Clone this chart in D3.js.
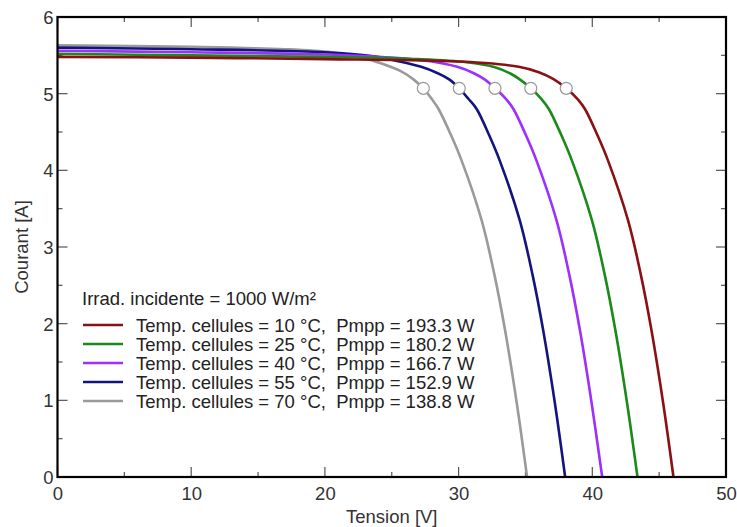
<!DOCTYPE html>
<html><head><meta charset="utf-8">
<script src="https://cdn.jsdelivr.net/npm/d3@7"></script>
<style>
body{margin:0;background:#fff;}
svg{font-family:"Liberation Sans",Arial,sans-serif;}
</style></head>
<body><svg id="c" width="737" height="527"></svg>
<script>
const temps = [10, 25, 40, 55, 70];
const pmpp = ["193.3", "180.2", "166.7", "152.9", "138.8"];
const colors = ["#8b1014", "#1a8a1a", "#9b30ff", "#14147f", "#9a9a9a"];
const xTicks = [0, 10, 20, 30, 40, 50];
const yTicks = [0, 1, 2, 3, 4, 5, 6];
const vmpp = [38.05, 35.4, 32.72, 30.05, 27.36];
const impp = [5.07, 5.07, 5.07, 5.07, 5.07];
// I-V curves: [voltage V, current A]
const curve10 = [[0,5.48],[10,5.47],[20,5.45],[28,5.43],[32,5.4],[34.5,5.35],[36,5.28],[37.1,5.19],[38.05,5.07],[38.95,4.92],[39.45,4.8],[40.38,4.46],[41.17,4.13],[42.67,3.35],[43.64,2.63],[44.42,1.92],[45.3,0.965],[46.07,0]];
const curve25 = [[0,5.52],[10,5.5],[20,5.48],[27,5.45],[30.6,5.41],[32.6,5.35],[33.9,5.26],[34.7,5.17],[35.4,5.07],[36.2,4.93],[36.75,4.8],[37.68,4.46],[38.47,4.13],[39.97,3.35],[40.94,2.63],[41.72,1.92],[42.6,0.965],[43.38,0]];
const curve40 = [[0,5.56],[10,5.54],[20,5.51],[25,5.47],[28,5.42],[29.9,5.35],[31.1,5.27],[32,5.18],[32.72,5.07],[33.55,4.93],[34.1,4.8],[35.03,4.46],[35.82,4.13],[37.32,3.35],[38.29,2.63],[39.07,1.92],[39.95,0.965],[40.74,0]];
const curve55 = [[0,5.6],[10,5.58],[20,5.54],[23.5,5.49],[25.6,5.42],[27.2,5.35],[28.4,5.27],[29.35,5.18],[30.05,5.07],[30.75,4.93],[31.35,4.8],[32.28,4.46],[33.07,4.13],[34.57,3.35],[35.54,2.63],[36.32,1.92],[37.2,0.965],[37.97,0]];
const curve70 = [[0,5.63],[10,5.61],[17,5.58],[20.5,5.54],[22.8,5.47],[24.3,5.39],[25.6,5.3],[26.6,5.19],[27.36,5.07],[28.0,4.93],[28.5,4.8],[29.43,4.46],[30.22,4.13],[31.72,3.35],[32.69,2.63],[33.47,1.92],[34.35,0.965],[35.12,0]];
const curves = [curve10, curve25, curve40, curve55, curve70];

const L = 57.5, R = 726, T = 17, B = 477;
const x = d3.scaleLinear().domain([0, 50]).range([L, R]);
const y = d3.scaleLinear().domain([0, 6]).range([B, T]);
const svg = d3.select("#c");
const txt = "#333";
const fs = "18.5px";

// ticks (inward, both sides)
const xMinor = d3.range(0, 50.1, 5), yMinor = d3.range(0, 6.01, 0.5);
const tk = svg.append("g").attr("stroke", "#555").attr("stroke-width", 1.2);
xMinor.forEach(v => {
  const len = (v % 10 === 0) ? 10 : 5;
  tk.append("line").attr("x1", x(v)).attr("x2", x(v)).attr("y1", B).attr("y2", B - len);
  tk.append("line").attr("x1", x(v)).attr("x2", x(v)).attr("y1", T).attr("y2", T + len);
});
yMinor.forEach(v => {
  const len = (Math.abs(v - Math.round(v)) < 1e-6) ? 10 : 5;
  tk.append("line").attr("y1", y(v)).attr("y2", y(v)).attr("x1", L).attr("x2", L + len);
  tk.append("line").attr("y1", y(v)).attr("y2", y(v)).attr("x1", R).attr("x2", R - len);
});

// curves
const line = d3.line().x(d => x(d[0])).y(d => y(d[1])).curve(d3.curveCatmullRom.alpha(0.5));
const order = [4, 3, 2, 1, 0];
order.forEach(i => {
  svg.append("path").attr("d", line(curves[i])).attr("fill", "none")
    .attr("stroke", colors[i]).attr("stroke-width", 2.6).attr("stroke-linejoin", "round");
});
// MPP circles
vmpp.forEach((v, i) => {
  svg.append("circle").attr("cx", x(v)).attr("cy", y(impp[i])).attr("r", 6)
    .attr("fill", "#fff").attr("stroke", "#999").attr("stroke-width", 1.2);
});

// frame
svg.append("rect").attr("x", L).attr("y", T).attr("width", R - L).attr("height", B - T)
  .attr("fill", "none").attr("stroke", "#000").attr("stroke-width", 2.2);

// axes labels
const xAxis = d3.axisBottom(x).tickValues(xTicks).tickFormat(d3.format("d")).tickSize(0).tickPadding(0);
const gx = svg.append("g").attr("transform", `translate(0,${B})`).call(xAxis);
gx.select(".domain").remove();
gx.selectAll("text").attr("fill", txt).style("font-size", fs).attr("dy", 0).attr("y", 23);
const yAxis = d3.axisLeft(y).tickValues(yTicks).tickFormat(d3.format("d")).tickSize(0).tickPadding(0);
const gy = svg.append("g").attr("transform", `translate(${L - 4},0)`).call(yAxis);
gy.select(".domain").remove();
gy.selectAll("text").attr("fill", txt).style("font-size", fs).attr("dy", "0.35em");

svg.append("text").attr("x", (L + R) / 2).attr("y", 523).attr("text-anchor", "middle")
  .attr("fill", txt).style("font-size", fs).text("Tension [V]");
svg.append("text").attr("transform", `translate(28,${(T + B) / 2}) rotate(-90)`).attr("text-anchor", "middle")
  .attr("fill", txt).style("font-size", fs).text("Courant [A]");

// legend
const lg = svg.append("g");
lg.append("text").attr("x", 82).attr("y", 305).attr("fill", "#222").style("font-size", fs)
  .text("Irrad. incidente = 1000 W/m²");
temps.forEach((t, i) => {
  const yy = 332 + i * 19;
  lg.append("line").attr("x1", 83).attr("x2", 123).attr("y1", yy - 7).attr("y2", yy - 7)
    .attr("stroke", colors[i]).attr("stroke-width", 2.6);
  lg.append("text").attr("x", 136).attr("y", yy).attr("fill", "#222").style("font-size", fs)
    .style("white-space", "pre").text(`Temp. cellules = ${t} °C,  Pmpp = ${pmpp[i]} W`);
});
</script></body></html>
